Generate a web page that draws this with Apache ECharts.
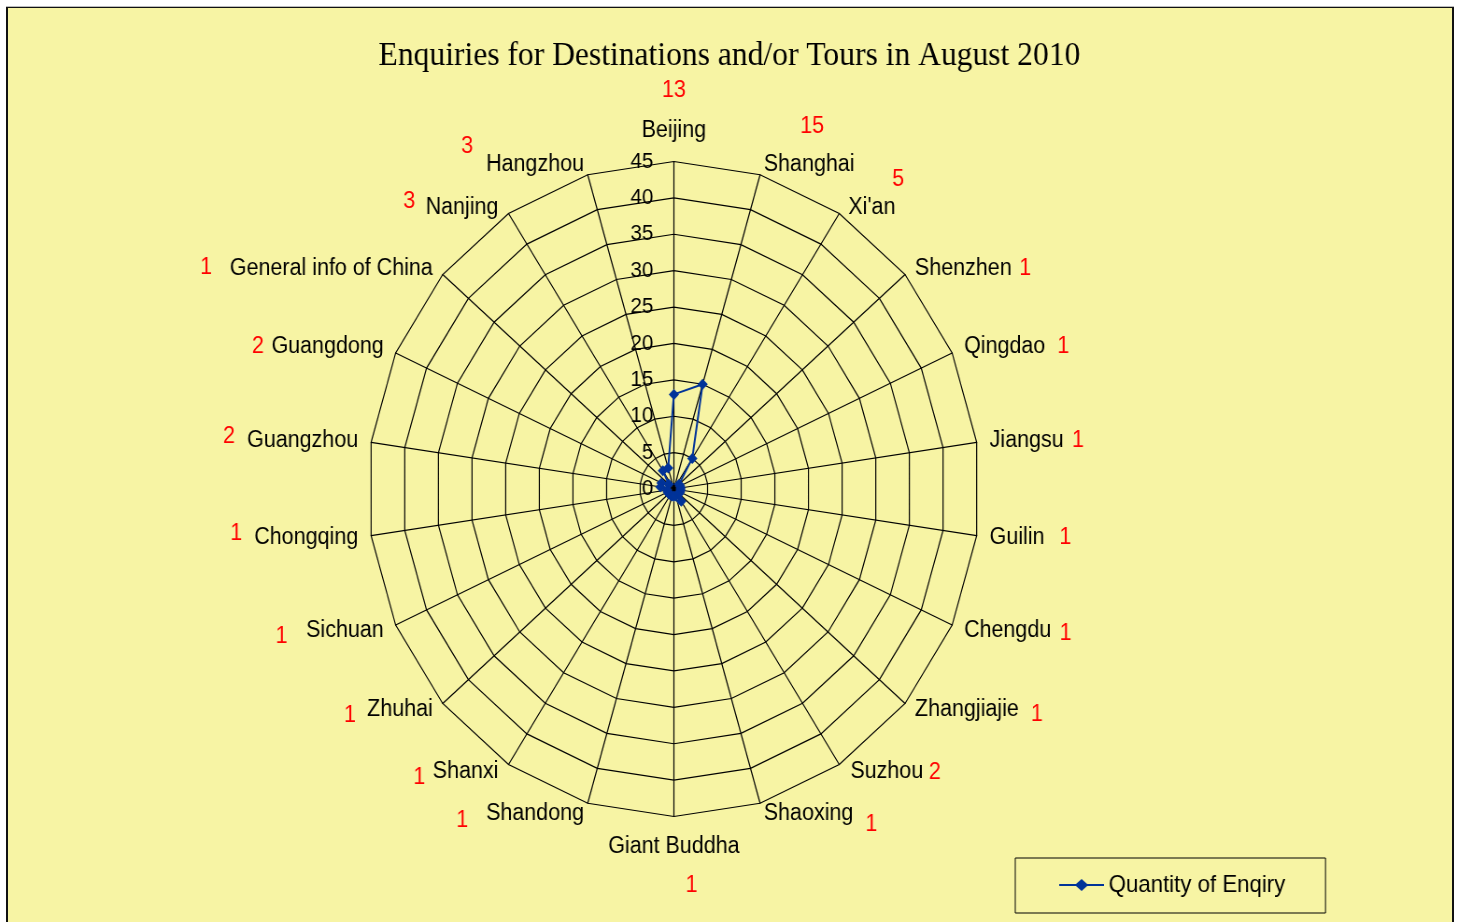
<!DOCTYPE html>
<html>
<head>
<meta charset="utf-8">
<title>Enquiries for Destinations and/or Tours in August 2010</title>
<script src="https://cdn.jsdelivr.net/npm/echarts@6/dist/echarts.min.js"></script>
<style>
  html, body { margin: 0; width: 1459px; height: 922px; overflow: hidden; background: #fff; }
  #frame {
    position: absolute; left: 6px; top: 7px; width: 1444px; height: 940px;
    background: #f7f4a4; border: 2px solid #111; border-top-width: 1px;
    box-shadow: 0 -1px 0 #bbb;
  }
  /* the picture is squeezed sideways, so the chart is drawn wider and scaled back */
  #chart {
    position: absolute; left: 0; top: 0; width: 1562px; height: 922px;
    transform: scaleX(0.934); transform-origin: 0 0;
  }
</style>
</head>
<body>
<div id="frame"></div>
<div id="chart"></div>
<script>
// clockwise from the top, as in the picture
const categories = [
  'Beijing', 'Shanghai', "Xi'an", 'Shenzhen', 'Qingdao', 'Jiangsu', 'Guilin',
  'Chengdu', 'Zhangjiajie', 'Suzhou', 'Shaoxing', 'Giant Buddha', 'Shandong',
  'Shanxi', 'Zhuhai', 'Sichuan', 'Chongqing', 'Guangzhou', 'Guangdong',
  'General info of China', 'Nanjing', 'Hangzhou'
];
const enquiries = [13, 15, 5, 1, 1, 1, 1, 1, 1, 2, 1, 1, 1, 1, 1, 1, 1, 2, 2, 1, 3, 3];
const tickValues = [0, 5, 10, 15, 20, 25, 30, 35, 40, 45];
const seriesName = 'Quantity of Enqiry';

// where the red count sits next to each name: [side, horizontal gap, vertical shift or line spacing]
const countPlace = [
  ['top', 0, 40], ['upper', 39, 38], ['upper', 49, 28], ['right', 8, 0],
  ['right', 13, 0], ['right', 9, 0], ['right', 16, 0], ['right', 9, 3],
  ['right', 13, 5], ['right', 6, 1], ['right', 13, 11], ['bottom', 38, 39],
  ['left', 19, 7], ['left', 8, 6], ['left', 12, 6], ['left', 20, 6],
  ['left', 13, -4], ['left', 13, -4], ['left', 8, 0], ['left', 19, -1],
  ['left', 11, -6], ['left', 14, -18]
];
// small nudges of the names themselves, screen px [dx, dy]
const nameShift = [
  [0, -4], [0, 3], [2, 6], [0, 3], [0, 0], [0, 0], [0, 0], [0, 0],
  [0, -3], [4, -5], [0, -3], [0, 3], [0, -3], [-3, -5], [0, -3], [0, 0],
  [0, 0], [0, 0], [0, 0], [0, 3], [-3, 6], [0, 3]
];

const SQUEEZE = 0.934;
const FONT = 'Liberation Sans';
const nameLine = 26;
const baseGap = 14;

const rich = {};
countPlace.forEach(([side, gap, cdy], i) => {
  const [sx, sy] = nameShift[i];
  const px = Math.abs(sx) / SQUEEZE;
  const n = { fontSize: 23, color: '#000', fontFamily: FONT, lineHeight: nameLine };
  const v = { fontSize: 23, color: '#ff0000', fontFamily: FONT };
  if (side === 'top' || side === 'bottom' || side === 'upper') {
    v.lineHeight = 2 * cdy - nameLine;
    v.padding = [0, 0, 0, gap];
    n.padding = [0, 0, 0, px];
    if (side === 'upper') {
      rich['b' + i] = { fontSize: 23, fontFamily: FONT, lineHeight: v.lineHeight - 2 * sy };
    }
  } else {
    const ady = sy + cdy;
    n.padding = [Math.max(0, 2 * sy), side === 'left' ? px : 0, Math.max(0, -2 * sy), side === 'right' ? px : 0];
    v.padding = [Math.max(0, 2 * ady), side === 'left' ? gap : 0, Math.max(0, -2 * ady), side === 'right' ? gap : 0];
  }
  rich['n' + i] = n;
  rich['v' + i] = v;
});

function nameWithCount(name) {
  const i = categories.indexOf(name);
  const side = countPlace[i][0];
  const v = '{v' + i + '|' + enquiries[i] + '}';
  const n = '{n' + i + '|' + name + '}';
  if (side === 'top') return v + '\n' + n;
  if (side === 'upper') return v + '\n' + n + '\n{b' + i + '| }';
  if (side === 'bottom') return n + '\n' + v;
  if (side === 'right') return n + v;
  return v + n;
}

// echarts goes round anticlockwise, so walk the list backwards after the first
const order = [0].concat(categories.map((_, i) => i).slice(1).reverse());
const axisMax = tickValues[tickValues.length - 1];

const indicator = order.map((i, k) => {
  const ind = { name: categories[i], min: 0, max: axisMax };
  const side = countPlace[i][0];
  if (side === 'top') ind.nameGap = baseGap - nameShift[i][1];
  if (side === 'bottom') ind.nameGap = baseGap + nameShift[i][1];
  if (k === 0) ind.axisLabel = { show: true };
  return ind;
});

const chart = echarts.init(document.getElementById('chart'));

const option = {
  animation: false,
  textStyle: { fontFamily: FONT },
  title: {
    text: 'Enquiries for Destinations and/or Tours in August 2010',
    left: 'center',
    top: 34,
    textStyle: { fontFamily: 'Liberation Serif', fontSize: 33.8, fontWeight: 'normal', color: '#000' }
  },
  legend: {
    left: 1087,
    top: 858,
    data: [{ name: seriesName, icon: 'path://M0,5L18,5L24,0L30,5L48,5L48,7L30,7L24,12L18,7L0,7Z' }],
    itemWidth: 48,
    itemHeight: 12,
    padding: [15, 43, 16, 47],
    borderColor: '#000',
    borderWidth: 1,
    textStyle: { fontSize: 23.8, color: '#000', fontFamily: FONT }
  },
  radar: {
    center: [721.5, 489],
    radius: 327.5,
    startAngle: 90,
    shape: 'polygon',
    splitNumber: tickValues.length - 1,
    nameGap: baseGap,
    axisName: {
      color: '#000',
      fontSize: 23,
      fontFamily: FONT,
      formatter: nameWithCount,
      rich: rich
    },
    axisLine: { lineStyle: { color: '#000', width: 1.2 } },
    splitLine: { lineStyle: { color: '#000', width: 1.2 } },
    splitArea: { show: false },
    axisTick: { show: false },
    axisLabel: { show: false, color: '#000', fontSize: 22, margin: 22, fontFamily: FONT },
    indicator: indicator
  },
  series: [{
    type: 'radar',
    name: seriesName,
    symbol: 'diamond',
    symbolSize: 11,
    itemStyle: { color: '#003399' },
    lineStyle: { color: '#003399', width: 2 },
    data: [{ name: seriesName, value: order.map(i => enquiries[i]) }]
  }]
};

chart.setOption(option);
</script>
</body>
</html>
